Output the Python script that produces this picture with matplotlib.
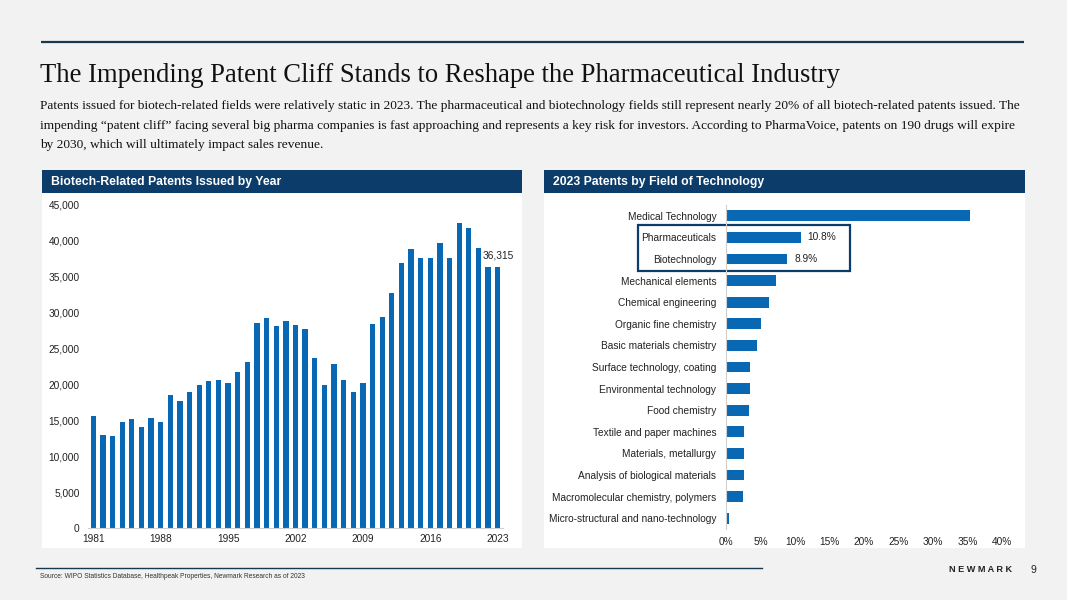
import numpy as np
import matplotlib
matplotlib.use('Agg')
import matplotlib.pyplot as plt
from matplotlib.patches import Rectangle
from matplotlib.ticker import FuncFormatter

W, H = 1067, 600
NAVY = '#0c3c6a'
BAR = '#0868b3'
BG = '#f2f2f2'
SANS = ['Liberation Sans', 'DejaVu Sans']
SERIF = ['Liberation Serif', 'DejaVu Serif']
TICK_FS = 7.3

# --- data -------------------------------------------------------------
years = list(range(1981, 2024))
patents = [15600, 13000, 12800, 14700, 15200, 14100, 15300, 14700, 18500, 17700,
           19000, 19900, 20500, 20600, 20200, 21700, 23100, 28600, 29200, 28100,
           28800, 28300, 27700, 23700, 19900, 22900, 20600, 19000, 20200, 28400,
           29400, 32700, 36900, 38900, 37600, 37600, 39700, 37600, 42500, 41800,
           39000, 36300, 36315]
year_ticks = [1981, 1988, 1995, 2002, 2009, 2016, 2023]

fields = ['Medical Technology', 'Pharmaceuticals', 'Biotechnology',
          'Mechanical elements', 'Chemical engineering', 'Organic fine chemistry',
          'Basic materials chemistry', 'Surface technology, coating',
          'Environmental technology', 'Food chemistry', 'Textile and paper machines',
          'Materials, metallurgy', 'Analysis of biological materials',
          'Macromolecular chemistry, polymers', 'Micro-structural and nano-technology']
shares = [35.4, 10.8, 8.9, 7.3, 6.2, 5.1, 4.5, 3.5, 3.5, 3.4, 2.6, 2.6, 2.6, 2.5, 0.5]
labelled = {'Pharmaceuticals': '10.8%', 'Biotechnology': '8.9%'}

title = 'The Impending Patent Cliff Stands to Reshape the Pharmaceutical Industry'
body = [
    'Patents issued for biotech-related fields were relatively static in 2023. The pharmaceutical and '
    'biotechnology fields still represent nearly 20% of all biotech-related patents issued. The',
    'impending \u201cpatent cliff\u201d facing several big pharma companies is fast approaching and '
    'represents a key risk for investors. According to PharmaVoice, patents on 190 drugs will expire',
    'by 2030, which will ultimately impact sales revenue.',
]
source = 'Source: WIPO Statistics Database, Healthpeak Properties, Newmark Research as of 2023'


def frac(x0, y0, x1, y1):
    """pixel box (top-left origin) -> figure fraction rect"""
    return [x0 / W, 1 - y1 / H, (x1 - x0) / W, (y1 - y0) / H]


fig = plt.figure(figsize=(W / 100, H / 100), dpi=100, facecolor=BG)

# background layer in pixel coordinates
bg = fig.add_axes([0, 0, 1, 1], zorder=-5)
bg.set_xlim(0, W); bg.set_ylim(H, 0); bg.axis('off')

bg.plot([41, 1024], [42, 42], color='#17384f', lw=1.6, solid_capstyle='butt')
bg.text(40, 75, title, family=SERIF, fontsize=19.2, color='#111111', va='center', ha='left')
for i, line in enumerate(body):
    bg.text(40, 106 + i * 19.5, line, family=SERIF, fontsize=9.6, color='#111111',
            va='center', ha='left')

# panels + headers
for x0, x1, hdr in [(42, 522, 'Biotech-Related Patents Issued by Year'),
                    (544, 1025, '2023 Patents by Field of Technology')]:
    bg.add_patch(Rectangle((x0, 193), x1 - x0, 355, fc='white', ec='none'))
    bg.add_patch(Rectangle((x0, 170), x1 - x0, 23, fc=NAVY, ec='none'))
    bg.text(x0 + 9, 182, hdr, family=SANS, fontsize=8.8, fontweight='bold', color='white',
            va='center', ha='left')

# highlight box round pharma / biotech
bg.add_patch(Rectangle((638, 225), 212, 46, fc='none', ec=NAVY, lw=1.6, zorder=5))

# footer
bg.plot([36, 762], [568, 568], color='#17384f', lw=1.0)
bg.text(40, 577, source, family=SANS, fontsize=4.8, color='#333333', va='center')
bg.text(1012, 570, 'N E W M A R K', family=SANS, fontsize=6.6, fontweight='bold',
        color='#222222', va='center', ha='right')
bg.text(1033, 570, '9', family=SANS, fontsize=7.5, color='#222222', va='center', ha='center')

# --- left chart: patents by year ---------------------------------------
ax = fig.add_axes(frac(88, 205, 503, 528))
x = np.arange(len(years))
ax.bar(x, patents, width=0.55, color=BAR)
ax.set_xlim(-0.55, len(years) - 0.45)
ax.set_ylim(0, 45000)
ax.set_yticks(range(0, 45001, 5000))
ax.yaxis.set_major_formatter(FuncFormatter(lambda v, p: f'{int(v):,}'))
ax.set_xticks([years.index(y) for y in year_ticks])
ax.set_xticklabels([str(y) for y in year_ticks])
ax.tick_params(length=0, labelsize=TICK_FS, colors='#222222')
ax.tick_params(axis='y', pad=6)
ax.tick_params(axis='x', pad=4)
for lab in ax.get_xticklabels() + ax.get_yticklabels():
    lab.set_family(SANS)
for s in ['top', 'right', 'left']:
    ax.spines[s].set_visible(False)
ax.spines['bottom'].set_color('#d0d0d0')
ax.patch.set_alpha(0)
ax.text(x[-1], patents[-1] + 900, f'{patents[-1]:,}', family=SANS, fontsize=TICK_FS,
        color='#222222', ha='center', va='bottom')

# --- right chart: 2023 share by field ----------------------------------
ax2 = fig.add_axes(frac(726, 205, 1002, 529))
y = np.arange(len(fields))
ax2.barh(y, shares, height=0.5, color=BAR)
ax2.set_ylim(len(fields) - 0.5, -0.5)
ax2.set_xlim(0, 40)
ax2.set_yticks(y)
ax2.set_yticklabels(fields)
ax2.set_xticks(range(0, 41, 5))
ax2.xaxis.set_major_formatter(FuncFormatter(lambda v, p: f'{int(v)}%'))
ax2.tick_params(length=0, labelsize=TICK_FS, colors='#222222')
ax2.tick_params(axis='y', pad=7)
ax2.tick_params(axis='x', pad=6)
for lab in ax2.get_xticklabels() + ax2.get_yticklabels():
    lab.set_family(SANS)
for s in ['top', 'right', 'bottom']:
    ax2.spines[s].set_visible(False)
ax2.spines['left'].set_color('#d0d0d0')
ax2.patch.set_alpha(0)
for i, f in enumerate(fields):
    if f in labelled:
        ax2.text(shares[i] + 1.0, i, labelled[f], family=SANS, fontsize=TICK_FS,
                 color='#222222', va='center', ha='left')

fig.savefig('out.png', dpi=100, facecolor=BG)
